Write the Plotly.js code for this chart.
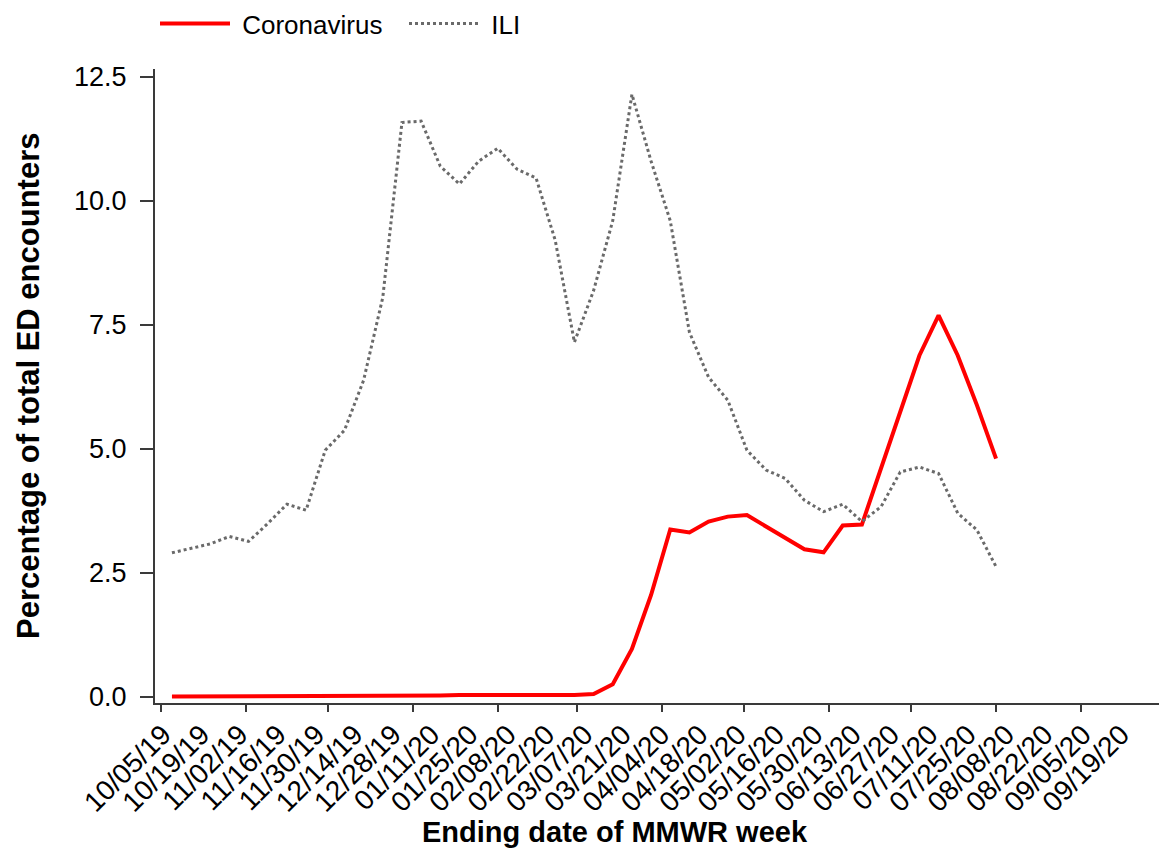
<!DOCTYPE html>
<html>
<head>
<meta charset="utf-8">
<script src="https://cdn.plot.ly/plotly-3.0.1.min.js"></script>
<style>
  html, body { margin: 0; padding: 0; background: #ffffff; }
  #chart { width: 1159px; height: 848px; }
</style>
</head>
<body>
<div id="chart"></div>
<script>
// Week-ending dates (MMWR weeks)
const weekEnding = [
  '2019-10-05','2019-10-12','2019-10-19','2019-10-26','2019-11-02','2019-11-09','2019-11-16','2019-11-23',
  '2019-11-30','2019-12-07','2019-12-14','2019-12-21','2019-12-28','2020-01-04','2020-01-11','2020-01-18',
  '2020-01-25','2020-02-01','2020-02-08','2020-02-15','2020-02-22','2020-02-29','2020-03-07','2020-03-14',
  '2020-03-21','2020-03-28','2020-04-04','2020-04-11','2020-04-18','2020-04-25','2020-05-02','2020-05-09',
  '2020-05-16','2020-05-23','2020-05-30','2020-06-06','2020-06-13','2020-06-20','2020-06-27','2020-07-04',
  '2020-07-11','2020-07-18','2020-07-25','2020-08-01'
];

// Percentage of total ED encounters
const coronavirus = [
  0.00, 0.00, 0.00, 0.00, 0.00, 0.00, 0.00, 0.01, 0.01, 0.00, 0.01, 0.01,
  0.02, 0.02, 0.02, 0.03, 0.03, 0.04, 0.02, 0.02, 0.02, 0.03, 0.05, 0.25,
  0.96, 2.05, 3.37, 3.31, 3.53, 3.63, 3.66, 3.43, 3.19, 2.97, 2.91, 3.45,
  3.47, 4.60, 5.78, 6.88, 7.69, 6.88, 5.88, 4.80
];

const ili = [
  2.90, 2.99, 3.08, 3.23, 3.13, 3.49, 3.88, 3.76, 4.97, 5.37, 6.38, 8.05,
  11.58, 11.61, 10.70, 10.34, 10.80, 11.06, 10.64, 10.46, 9.20, 7.15, 8.19, 9.60,
  12.15, 10.80, 9.60, 7.35, 6.44, 5.98, 4.97, 4.57, 4.40, 3.96, 3.73, 3.88,
  3.53, 3.83, 4.53, 4.63, 4.50, 3.70, 3.36, 2.62
];

// Tick labels (every two weeks) and monthly tick marks
const labelDates = [
  '2019-10-05','2019-10-19','2019-11-02','2019-11-16','2019-11-30','2019-12-14','2019-12-28',
  '2020-01-11','2020-01-25','2020-02-08','2020-02-22','2020-03-07','2020-03-21','2020-04-04',
  '2020-04-18','2020-05-02','2020-05-16','2020-05-30','2020-06-13','2020-06-27','2020-07-11',
  '2020-07-25','2020-08-08','2020-08-22','2020-09-05','2020-09-19'
];
const labelText = [
  '10/05/19','10/19/19','11/02/19','11/16/19','11/30/19','12/14/19','12/28/19',
  '01/11/20','01/25/20','02/08/20','02/22/20','03/07/20','03/21/20','04/04/20',
  '04/18/20','05/02/20','05/16/20','05/30/20','06/13/20','06/27/20','07/11/20',
  '07/25/20','08/08/20','08/22/20','09/05/20','09/19/20'
];
const monthTicks = [
  '2019-10-01','2019-11-01','2019-12-01','2020-01-01','2020-02-01','2020-03-01',
  '2020-04-01','2020-05-01','2020-06-01','2020-07-01','2020-08-01','2020-09-01'
];

const yTicks = [0, 2.5, 5, 7.5, 10, 12.5];

const FONT = 'Liberation Sans, Arial, Helvetica, sans-serif';
const AXIS = '#3a3a3a';

const traces = [
  {
    x: weekEnding, y: coronavirus, type: 'scatter', mode: 'lines',
    name: '\u00a0Coronavirus',
    line: { color: '#ff0000', width: 4 }
  },
  {
    x: weekEnding, y: ili, type: 'scatter', mode: 'lines',
    name: '\u00a0ILI',
    line: { color: '#6a6a6a', width: 3, dash: 'dot' }
  }
];

const layout = {
  width: 1159, height: 848,
  margin: { l: 155, r: 0, t: 68, b: 144.5, pad: 0 },
  paper_bgcolor: '#ffffff', plot_bgcolor: '#ffffff',
  font: { family: FONT, color: '#000000', size: 26 },
  showlegend: true,
  legend: {
    orientation: 'h', x: 0.0, xanchor: 'left', y: 1.072, yanchor: 'middle',
    font: { family: FONT, size: 26, color: '#000000' },
    itemwidth: 70, entrywidth: 164, entrywidthmode: 'pixels',
    bgcolor: 'rgba(0,0,0,0)'
  },
  xaxis: {
    type: 'date',
    range: ['2019-09-28 19:27', '2020-09-29 12:15'],
    showgrid: false, zeroline: false,
    showline: true, linecolor: AXIS, linewidth: 2,
    tickmode: 'array', tickvals: labelDates, ticktext: labelText,
    ticks: '', tickangle: -45, ticklabelstandoff: 2, ticklabelshift: -9,
    tickfont: { family: FONT, size: 28, color: '#000000' },
    minor: {
      tickmode: 'array', tickvals: monthTicks,
      ticks: 'outside', ticklen: 7, tickwidth: 2, tickcolor: AXIS, showgrid: false
    }
  },
  yaxis: {
    range: [-0.13, 12.66],
    showgrid: false, zeroline: false,
    showline: true, linecolor: AXIS, linewidth: 2,
    tickmode: 'array', tickvals: yTicks, tickformat: '.1f',
    ticks: 'outside', ticklen: 13, tickwidth: 2, tickcolor: AXIS,
    ticklabelstandoff: 8,
    tickfont: { family: FONT, size: 27, color: '#000000' }
  },
  annotations: [
    {
      text: '<b>Ending date of MMWR week</b>',
      xref: 'paper', yref: 'paper', x: 0.458, y: -0.2038,
      xanchor: 'center', yanchor: 'middle', showarrow: false,
      font: { family: FONT, size: 29, color: '#000000' }
    },
    {
      text: '<b>Percentage of total ED encounters</b>',
      xref: 'paper', yref: 'paper', x: -0.1265, y: 0.5,
      xanchor: 'center', yanchor: 'middle', textangle: -90, showarrow: false,
      font: { family: FONT, size: 31, color: '#000000' }
    }
  ]
};

Plotly.newPlot('chart', traces, layout, { displayModeBar: false, responsive: false });
</script>
</body>
</html>
